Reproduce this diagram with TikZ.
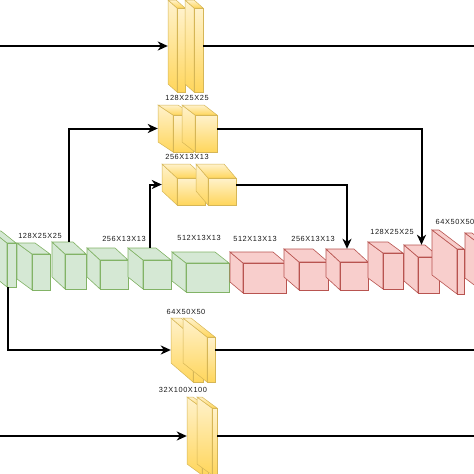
\documentclass[tikz,border=0pt]{standalone}
\usepackage{fontspec}
\newfontfamily\massfont[LetterSpace=8]{Liberation Sans}
\usetikzlibrary{arrows,arrows.meta}
\usetikzlibrary{calc,fit}
\definecolor{gruenfuell}{RGB}{213,232,212}
\definecolor{gruenrand}{RGB}{130,179,102}
\definecolor{rotfuell}{RGB}{248,206,204}
\definecolor{rotrand}{RGB}{184,84,80}
\definecolor{gelbhell}{RGB}{255,242,204}
\definecolor{gelbdunkel}{RGB}{255,214,92}
\definecolor{gelbrand}{RGB}{214,182,86}

% Quader: Name, vorne x1,y1,x2,y2, Tiefe dx,dy, Stil
\newcommand{\quader}[8]{%
	\path[#8] ({#2-#6},{#3-#7}) -- (#2,#3) -- (#2,#5) -- ({#2-#6},{#5-#7}) -- cycle;
	\path[#8] ({#2-#6},{#3-#7}) -- ({#4-#6},{#3-#7}) -- (#4,#3) -- (#2,#3) -- cycle;
	\path[#8] (#2,#3) rectangle (#4,#5);
	\coordinate (#1-a) at ({#2-#6},{#3-#7});
	\coordinate (#1-b) at (#4,#5);
	\node[fit=(#1-a)(#1-b), inner sep=0pt] (#1) {};
}

\begin{document}
\begin{tikzpicture}[x=1pt, y=-1pt,
	gruen/.style={draw=gruenrand, fill=gruenfuell, line width=0.6pt},
	rot/.style={draw=rotrand, fill=rotfuell, line width=0.6pt},
	gelb/.style={draw=gelbrand, top color=gelbhell, bottom color=gelbdunkel, line width=0.5pt},
	verb/.style={black, line width=2pt},
	pfeil/.style={verb, -{Stealth[length=10pt, width=9pt, inset=3pt]}},
	mass/.style={font=\massfont\fontsize{7.4}{8}\selectfont, inner sep=0pt, text=black!90}]

	\path[use as bounding box, clip] (0,0) rectangle (474,474);

	% Encoder
	\quader{g1}{7}{243}{16}{287}{15}{12}{gruen}
	\quader{g2}{32}{254}{50}{290}{15}{11}{gruen}
	\quader{g3}{65}{254}{86}{289}{13}{12}{gruen}
	\quader{g4}{100}{260}{128}{289}{13}{12}{gruen}
	\quader{g5}{143}{260}{171}{289}{15}{12}{gruen}
	\quader{g6}{186}{263}{229}{292}{14}{11}{gruen}

	% Decoder
	\quader{r1}{243}{263}{286}{293}{13}{11}{rot}
	\quader{r2}{299}{262}{328}{290}{15}{13}{rot}
	\quader{r3}{340}{262}{368}{290}{14}{13}{rot}
	\quader{r4}{383}{253}{403}{289}{15}{11}{rot}
	\quader{r5}{418}{257}{439}{293}{14}{12}{rot}
	\quader{r6}{457}{249}{464}{294}{25}{19}{rot}
	\quader{r7}{490}{252}{497}{297}{25}{19}{rot}

	% Skip-Bloecke
	\quader{ya1}{177}{8}{185}{92}{9}{8}{gelb}
	\quader{ya2}{194}{8}{203}{92}{9}{8}{gelb}

	\quader{yb1}{173}{115}{193}{152}{15}{10}{gelb}
	\quader{yb2}{195}{115}{217}{152}{13}{10}{gelb}

	\quader{yc1}{177}{178}{205}{205}{15}{14}{gelb}
	\quader{yc2}{208}{178}{236}{205}{12}{14}{gelb}

	\quader{yd1}{193}{337}{203}{382}{22}{19}{gelb}
	\quader{yd2}{207}{337}{215}{382}{24}{19}{gelb}

	\quader{ye1}{202}{408}{208}{475}{15}{11}{gelb}
	\quader{ye2}{212}{408}{217}{475}{15}{11}{gelb}

	% Beschriftungen
	\node[mass] (tya) at (187,98) {128X25X25};
	\node[mass] (tyb) at (187,157) {256X13X13};
	\node[mass] (tyd) at (186,312) {64X50X50};
	\node[mass] (tye) at (183,390) {32X100X100};

	\node[mass] (tg2) at (40,236) {128X25X25};
	\node[mass] (tg4) at (124,239) {256X13X13};
	\node[mass] (tg6) at (199,238) {512X13X13};

	\node[mass] (tr1) at (255,239) {512X13X13};
	\node[mass] (tr3) at (313,239) {256X13X13};
	\node[mass] (tr5) at (392,232) {128X25X25};
	\node[mass] (tr6) at (455,222) {64X50X50};

	% Verbindungen
	\coordinate (ein1) at (-5,46);
	\coordinate (aus1) at (480,46);
	\coordinate (aus4) at (480,350);
	\coordinate (ein5) at (-5,436);
	\coordinate (aus5) at (480,436);

	\draw[pfeil] (ein1) -- (ya1.west);
	\draw[verb] (ya2.east) -- (aus1);

	\draw[pfeil] (g3.north) |- (yb1.west);
	\draw[pfeil] (yb2.east) -| (r5.north);

	\draw[pfeil] (g5.north) |- (yc1.west);
	\draw[pfeil] (yc2.east) -| (r3.north);

	\draw[pfeil] ([xshift=4pt]g1.south) |- (yd1.west);
	\draw[verb] (yd2.east) -- (aus4);

	\draw[pfeil] (ein5) -- (ye1.west);
	\draw[verb] (ye2.east) -- (aus5);
\end{tikzpicture}
\end{document}
